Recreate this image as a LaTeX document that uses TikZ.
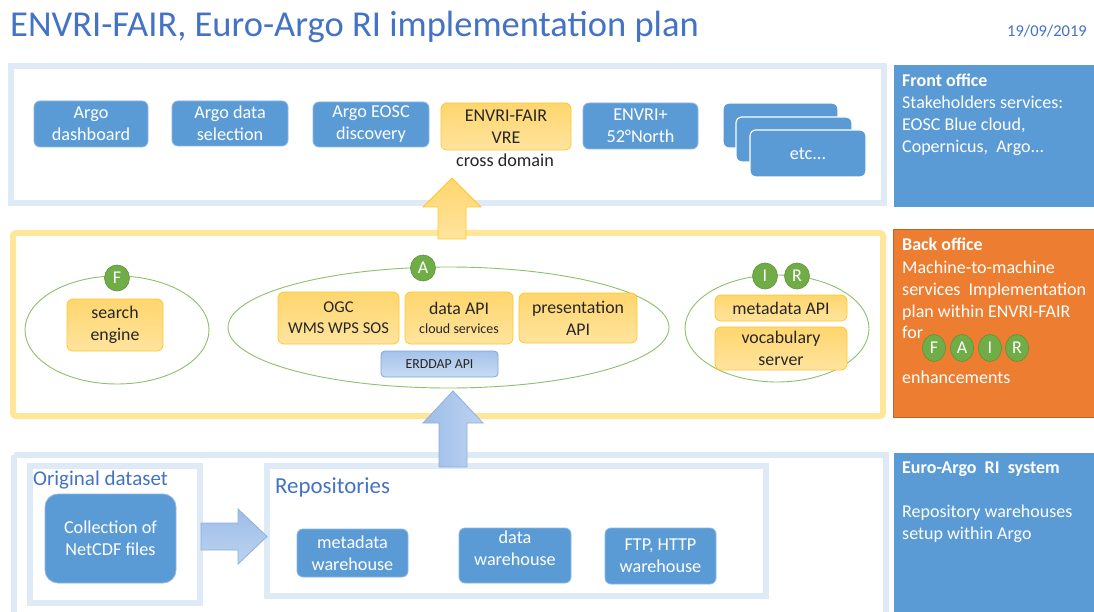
\documentclass[tikz,border=0pt]{standalone}
\usepackage{fontspec}
\setmainfont{Carlito}
\usetikzlibrary{shapes.geometric}
\definecolor{titleblue}{HTML}{4472C4}
\definecolor{boxblue}{HTML}{5B9BD5}
\definecolor{boxedge}{HTML}{8DB8E6}
\definecolor{frameblue}{HTML}{DEEAF6}
\definecolor{frameyellow}{HTML}{FFE699}
\definecolor{yfillA}{HTML}{FFD66E}
\definecolor{yfillB}{HTML}{FFE49E}
\definecolor{yborder}{HTML}{FFC72C}
\definecolor{boorange}{HTML}{ED7D31}
\definecolor{fgreen}{HTML}{70AD47}
\definecolor{fgreenD}{HTML}{548235}
\definecolor{ringgreen}{HTML}{8CC168}
\definecolor{erdA}{HTML}{A4C2EA}
\definecolor{erdB}{HTML}{C9DCF2}
\definecolor{erdD}{HTML}{7FA5D6}
\definecolor{darktext}{HTML}{262626}
\definecolor{arrblueA}{HTML}{9DBDE8}
\definecolor{arrblueB}{HTML}{BCD3F0}
\definecolor{arrblueD}{HTML}{8FAEDC}
\begin{document}
\begin{tikzpicture}[x=1pt,y=-1pt,
  bluebox/.style={draw=boxedge, line width=0.8pt, fill=boxblue, rounded corners=6pt, text=white, align=center, inner sep=0pt, font=\fontsize{18.2}{22}\selectfont},
  stackbox/.style={bluebox, draw=white, line width=1.2pt},
  ybox/.style={draw=yborder, line width=0.8pt, top color=yfillA, bottom color=yfillB, rounded corners=6pt, text=darktext, align=center, inner sep=0pt, font=\fontsize{17.8}{22}\selectfont},
  ring/.style={draw=ringgreen, line width=0.9pt, ellipse, inner sep=0pt},
  gcirc/.style={ellipse, fill=fgreen, draw=fgreenD!60!fgreen, line width=0.6pt, inner sep=0pt, minimum width=25pt, minimum height=26pt, text=white, font=\fontsize{18}{18}\selectfont},
  sidetxt/.style={anchor=base west, text=white, inner sep=0pt, font=\fontsize{18}{20}\selectfont},
  sidehead/.style={sidetxt, font=\fontsize{18}{20}\selectfont\bfseries},
  frameB/.style={draw=frameblue, line width=6pt},
]
\useasboundingbox (0,0) rectangle (1094,612);
\fill[white] (0,0) rectangle (1094,612);

% title
\node[anchor=base west, inner sep=0pt, text=titleblue, font=\fontsize{36.5}{40}\selectfont] (title) at (10,37) {ENVRI-FAIR, Euro-Argo RI implementation plan};
\node[anchor=base east, inner sep=0pt, text=titleblue, font=\fontsize{16.5}{18}\selectfont] (date) at (1087,37) {19/09/2019};

% frames
\draw[frameB] (11,66) rectangle (884,203);
\draw[draw=frameyellow, line width=6pt, rounded corners=3pt] (13,233) rectangle (883,416);
\draw[frameB] (14,455) -- (886,455) -- (886,620);
\draw[frameB] (14,620) -- (14,455);
\draw[frameB] (30,466) rectangle (200,603);
\draw[frameB] (267,466) rectangle (766,596);

% side panels
\fill[boxblue] (894,65) rectangle (1094,207);
\fill[boorange] (893,229) rectangle (1094,417);
\draw[boorange!80!black, line width=0.6pt] (893,229) rectangle (1094,417);
\fill[boxblue] (894,453) rectangle (1094,612);

\node[sidehead] (fo1) at (902,87) {Front office};
\node[sidetxt] (fo2) at (902,109) {Stakeholders services:};
\node[sidetxt] (fo3) at (902,131) {EOSC Blue cloud,};
\node[sidetxt] (fo4) at (902,153) {Copernicus,\ \ Argo...};

\node[sidehead] (bo1) at (902,251) {Back office};
\node[sidetxt] (bo2) at (902,273) {Machine-to-machine};
\node[sidetxt] (bo3) at (902,295) {services\ \ Implementation};
\node[sidetxt] (bo4) at (902,317) {plan within ENVRI-FAIR};
\node[sidetxt] (bo5) at (902,338) {for};
\node[sidetxt] (bo6) at (902,383) {enhancements};
\node[gcirc, minimum width=23pt, minimum height=27pt] (bF) at (934,348) {F};
\node[gcirc, minimum width=23pt, minimum height=27pt] (bA) at (962,348) {A};
\node[gcirc, minimum width=23pt, minimum height=27pt] (bI) at (990,348) {I};
\node[gcirc, minimum width=23pt, minimum height=27pt] (bR) at (1017,348) {R};

\node[sidehead] (ea1) at (902,473) {Euro-Argo\ \ RI\ \ system};
\node[sidetxt] (ea2) at (902,517) {Repository warehouses};
\node[sidetxt] (ea3) at (902,539) {setup within Argo};

% front office boxes
\node[bluebox, minimum width=114pt, minimum height=46pt] (dash) at (91,124) {Argo\\dashboard};
\node[bluebox, minimum width=116pt, minimum height=45pt] (sel) at (230,123.5) {Argo data\\selection};
\node[bluebox, minimum width=116pt, minimum height=45pt] (eosc) at (371,124.5) {Argo EOSC\\discovery};
\node[ybox, minimum width=130pt, minimum height=47pt, font=\fontsize{18}{22}\selectfont] (vre) at (506,126.5) {ENVRI-FAIR\\VRE};
\node[inner sep=0pt, text=darktext, font=\fontsize{18.2}{20}\selectfont] (cross) at (505,160) {cross domain};
\node[bluebox, minimum width=115pt, minimum height=46pt] (north) at (640.5,126) {ENVRI+\\52°North};
\node[stackbox, minimum width=115pt, minimum height=45pt] (etc1) at (780.5,125.5) {};
\node[stackbox, minimum width=116pt, minimum height=45pt] (etc2) at (794,139.5) {};
\node[stackbox, minimum width=116pt, minimum height=47pt] (etc3) at (808,153.5) {etc...};

% yellow up arrow
\draw[draw=yborder, line width=0.8pt, top color=yfillA, bottom color=yfillB] (452,178) -- (481,207) -- (466,207) -- (466,239) -- (438,239) -- (438,207) -- (423,207) -- cycle;

% back office ellipses
\node[ring, minimum width=184pt, minimum height=108pt] (ringF) at (117,330) {};
\node[ring, minimum width=441pt, minimum height=121pt] (ringA) at (448.5,327.5) {};
\node[ring, minimum width=184pt, minimum height=107pt] (ringIR) at (777,328.5) {};
\node[gcirc] (cF) at (117,278) {F};
\node[gcirc] (cA) at (423,268) {A};
\node[gcirc] (cI) at (765,276) {I};
\node[gcirc] (cR) at (797,276) {R};

\node[ybox, minimum width=96pt, minimum height=52pt] (search) at (115,325) {search\\engine};
\node[ybox, minimum width=121pt, minimum height=52pt, font=\fontsize{16.5}{21}\selectfont] (ogc) at (338.5,318) {OGC\\WMS WPS SOS};
\node[ybox, minimum width=108pt, minimum height=52pt] (dapi) at (459,318) {data API\\[-3pt]{\fontsize{14}{16}\selectfont cloud services}};
\node[ybox, minimum width=118pt, minimum height=50pt] (papi) at (578,318) {presentation\\API};
\node[draw=erdD, line width=0.8pt, top color=erdA, bottom color=erdB, rounded corners=4pt, inner sep=0pt, minimum width=117pt, minimum height=26pt, text=darktext, font=\fontsize{13.8}{15}\selectfont] (erddap) at (439.5,364) {ERDDAP API};
\node[ybox, minimum width=132pt, minimum height=26pt] (mapi) at (781,308) {metadata API};
\node[ybox, minimum width=132pt, minimum height=43pt] (vocab) at (781,348.5) {vocabulary\\server};

% blue up arrow
\draw[draw=arrblueD, line width=0.8pt, left color=arrblueA, right color=arrblueB] (453,391) -- (483,423) -- (467,423) -- (467,467) -- (439,467) -- (439,423) -- (423,423) -- cycle;

% bottom section
\node[anchor=base west, inner sep=0pt, text=titleblue, font=\fontsize{21}{23}\selectfont] (orig) at (33,485) {Original dataset};
\node[anchor=base west, inner sep=0pt, text=titleblue, font=\fontsize{22.9}{25}\selectfont] (repo) at (275,493) {Repositories};
\node[bluebox, rounded corners=13pt, minimum width=131pt, minimum height=89pt] (coll) at (110.5,538.5) {Collection of\\NetCDF files};
\draw[draw=arrblueD, line width=0.8pt, top color=arrblueA, bottom color=arrblueB] (201,523) -- (238,523) -- (238,509) -- (267,536.5) -- (238,564) -- (238,550) -- (201,550) -- cycle;
\node[bluebox, minimum width=111pt, minimum height=48pt] (mwh) at (352.5,553) {metadata\\warehouse};
\node[bluebox, minimum width=112pt, minimum height=55pt] (dwh) at (515,555.5) {};
\node[inner sep=0pt, text=white, align=center, font=\fontsize{18.2}{22}\selectfont] (dwhtxt) at (515,548) {data\\warehouse};
\node[bluebox, minimum width=111pt, minimum height=56pt] (ftp) at (660.5,556) {FTP, HTTP\\warehouse};
\end{tikzpicture}
\end{document}
